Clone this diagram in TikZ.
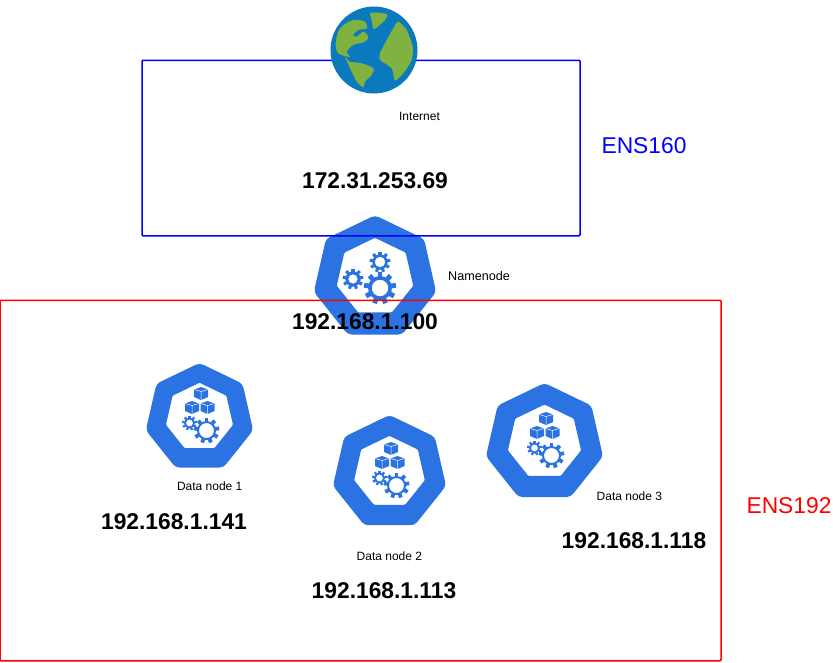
\documentclass[tikz,border=0pt]{standalone}
\usepackage{fontspec}
\setmainfont{Liberation Sans}
\usepackage{xcolor}
\usetikzlibrary{positioning}
\definecolor{kubeblue}{RGB}{43,114,226}
\definecolor{oceanblue}{RGB}{11,121,189}
\definecolor{landgreen}{RGB}{127,178,65}
\tikzset{
	% Specifications for style of nodes:
	netbox/.style = {rectangle, rounded corners=1pt, inner sep=0pt,
	line width=1.5pt, fill=none},
	small/.style = {font=\fontsize{12}{14}\selectfont, inner sep=0pt},
	addr/.style = {font=\fontsize{22.8}{26}\selectfont\bfseries, inner sep=0pt},
	netname/.style = {font=\fontsize{22.8}{26}\selectfont, inner sep=0pt},
	pics/hept/.style = {code={
		\fill[kubeblue, even odd rule, rounded corners=4pt]
			(-90:64) -- (-38.57:64) -- (12.86:64) -- (64.29:64) -- (115.71:64) -- (167.14:64) -- (218.57:64) -- cycle
			[rounded corners=1pt]
			(0,-41) -- (31.3,-25.9) -- (39,7.9) -- (17.35,35.04) -- (-17.35,35.04) -- (-39,7.9) -- (-31.3,-25.9) -- cycle;
	}},
	pics/gearwheel/.style 2 args = {code={
		\fill[kubeblue, even odd rule] (0,0) circle (#1) (0,0) circle (#2);
		\foreach \a in {0,40,...,320}
			\fill[kubeblue, rotate=\a+10] (#1*0.9,-#1*0.2) rectangle (#1*1.35,#1*0.2);
	}},
	pics/cube/.style = {code={
		\fill[kubeblue] (0,-6.5) -- (7,-4) -- (7,3.5) -- (0,6.5) -- (-7,3.5) -- (-7,-4) -- cycle;
		\draw[white, line width=0.5pt] (-7,-4) -- (0,-2) -- (7,-4) (0,-2) -- (0,6.5);
	}},
	pics/datahept/.style = {code={
		\pic[scale=#1] at (0,0) {hept};
		\pic at (1.5,-24.5) {cube};
		\pic at (-7.5,-10.5) {cube};
		\pic at (8,-10.5) {cube};
		\pic at (-10,5) {gearwheel={5.5}{3.5}};
		\pic at (7,12.5) {gearwheel={9.5}{7.5}};
	}},
}
\begin{document}
\begin{tikzpicture}[x=1pt, y=-1pt]
		\useasboundingbox (0,0) rectangle (833,662);
		% draw icons below the boxes
		\pic[scale=0.98] (namehept) at (375,278) {hept};
		\pic at (380,262) {gearwheel={7.7}{5.3}};
		\pic at (353,279) {gearwheel={7.7}{4.7}};
		\pic at (380,288) {gearwheel={12}{8.3}};
		\pic (data1) at (199.5,418) {datahept=0.86};
		\pic (data2) at (389.5,473) {datahept=0.906};
		\pic (data3) at (544.5,443) {datahept=0.9375};
		% draw boxes
		\node (ens160box)[netbox, draw=blue, minimum width=438pt, minimum height=175.5pt] at (361,148) {};
		\node (ens192box)[netbox, draw=red, minimum width=721pt, minimum height=360.5pt] at (360.5,480.5) {};
		% globe
		\begin{scope}[shift={(374,50)}]
			\fill[oceanblue] (0,0) circle (43.5);
			\fill[landgreen] plot[smooth cycle, tension=0.5] coordinates {(-38.3,-6.7) (-34,-21.7) (-20.7,-30) (-9,-28.3) (-7.3,-21.7) (-15.7,-20) (-20.7,-15) (-17.3,-13.3) (-10.7,-18.3) (-5.7,-13.3) (-9,-8.3) (-20.7,-5) (-27.3,1.7) (-24,7) (-35.7,3.3)};
			\fill[landgreen] plot[smooth cycle, tension=0.5] coordinates {(-29,7) (-24,11.7) (-12.3,13.3) (-0.7,18.3) (-2.3,25) (-9,31.7) (-10.7,37.3) (-17.3,31.7) (-22.3,21.7)};
			\fill[landgreen] plot[smooth cycle, tension=0.4] coordinates {(-3.3,-37.3) (12.7,-36) (11,-30) (0,-20.7) (-2.3,-30)};
			\fill[landgreen] plot[smooth cycle, tension=0.4] coordinates {(24.3,-28.3) (32.7,-20) (38.7,-3.3) (37.7,10) (29.3,23.3) (21,30.7) (17.7,18.3) (6,10) (6,3.3) (12.7,-10) (19.3,-21.7)};
		\end{scope}
		% draw labels
		\node (internet)[small] at (419.5,116) {Internet};
		\node (extaddr)[addr] at (375,181) {172.31.253.69};
		\node (ens160)[netname, text=blue] at (644,146) {ENS160};
		\node (namenode)[small, font=\fontsize{12.6}{14}\selectfont] at (479,276) {Namenode};
		\node (nameaddr)[addr] at (365,322) {192.168.1.100};
		\node (datalabel1)[small] at (209.7,486) {Data node 1};
		\node (dataaddr1)[addr] at (174,522) {192.168.1.141};
		\node (datalabel2)[small] at (389.4,556) {Data node 2};
		\node (dataaddr2)[addr] at (384,591) {192.168.1.113};
		\node (datalabel3)[small] at (629.4,496) {Data node 3};
		\node (dataaddr3)[addr] at (634,541) {192.168.1.118};
		\node (ens192)[netname, text=red] at (789,506) {ENS192};
	\end{tikzpicture}
\end{document}
